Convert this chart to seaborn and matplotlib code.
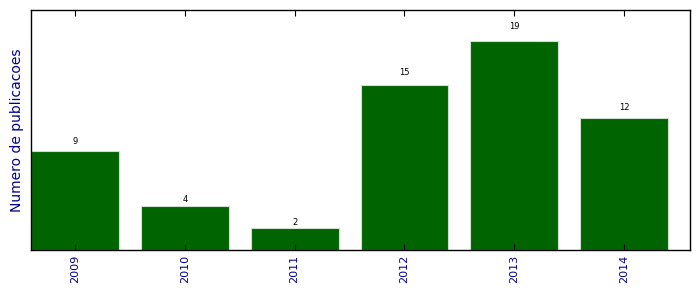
import matplotlib
matplotlib.use("Agg")
import matplotlib.pyplot as plt
import seaborn as sns
import pandas as pd

years = ["2009", "2010", "2011", "2012", "2013", "2014"]
counts = [9, 4, 2, 15, 19, 12]

df = pd.DataFrame({"ano": years, "n": counts})

fig = plt.figure(figsize=(6.99, 2.92), dpi=100)
ax = fig.add_axes([31/699, 42/292, 659/699, 240/292])

sns.barplot(data=df, x="ano", y="n", color="#006400", saturation=1,
            edgecolor="#d0e0d0", linewidth=0.8, width=0.8, ax=ax)

for i, v in enumerate(counts):
    ax.text(i, 1.05 * v, str(v), ha="center", va="bottom", fontsize=6, color="black")

ax.set_xlim(-0.4, 5.6)
ax.set_ylim(0, max(counts) * 1.15)
ax.set_yticks([])
ax.set_xlabel("")
ax.set_ylabel("Numero de publicacoes", color="darkblue", fontsize=10, labelpad=5)
ax.tick_params(axis="x", direction="in", top=True, length=4, width=0.8,
               labelsize=8, labelcolor="darkblue", labelrotation=90)
for s in ax.spines.values():
    s.set_linewidth(1.0)
    s.set_color("black")

fig.savefig("out.png", dpi=100)
